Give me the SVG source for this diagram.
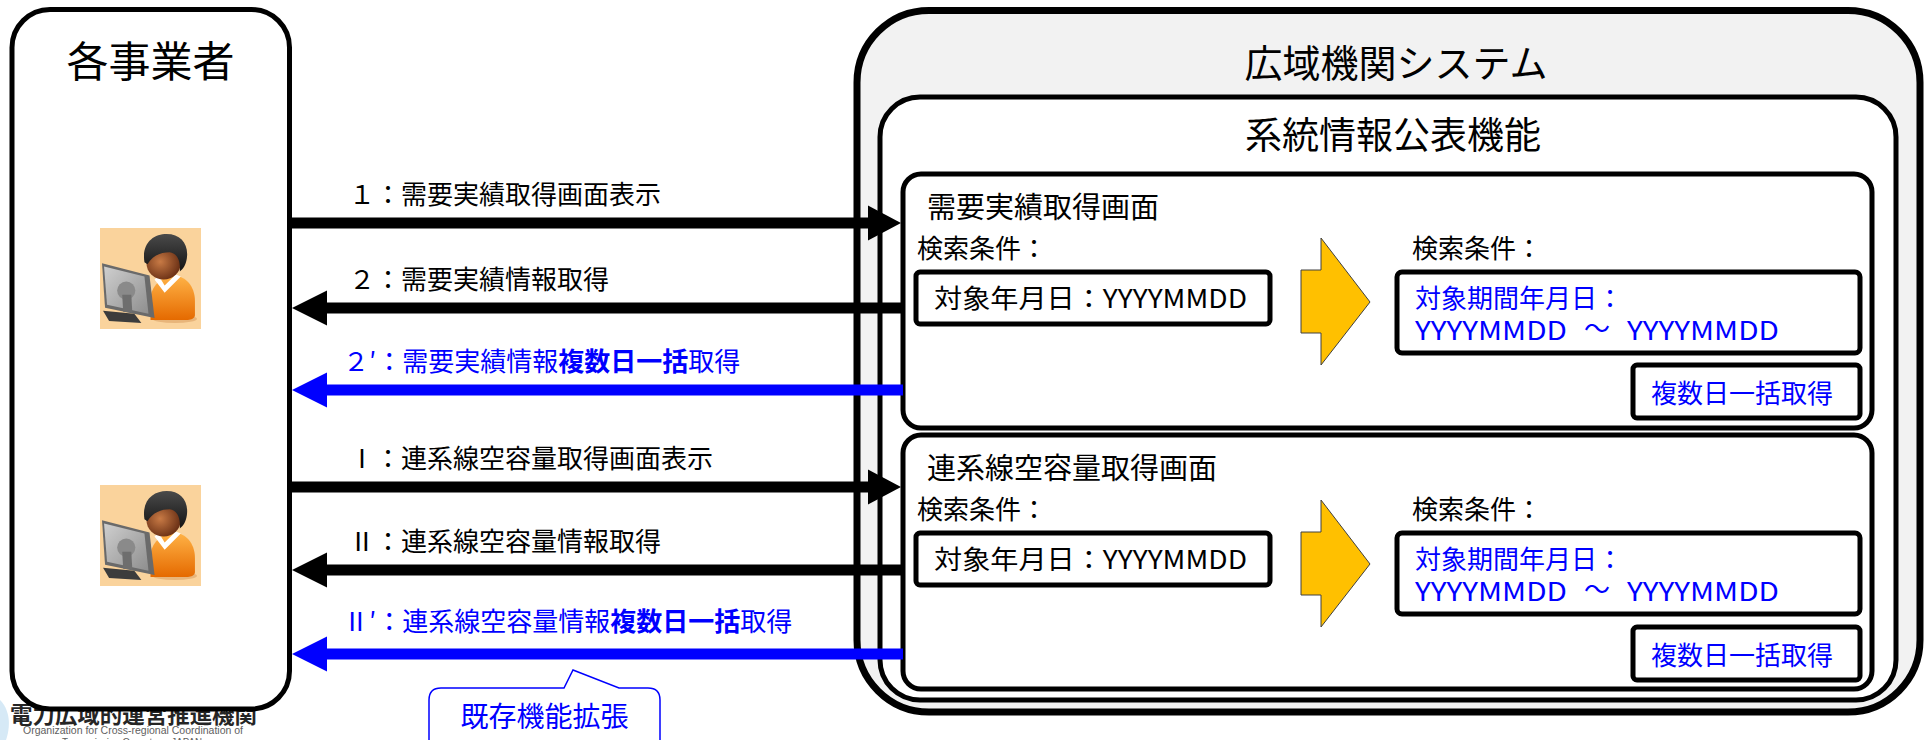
<svg xmlns="http://www.w3.org/2000/svg" width="1931" height="740" viewBox="0 0 1931 740">
  <style>
    .t { font-family: "Noto Sans CJK JP", "Noto Sans", sans-serif; fill: #000; }
    .blue { fill: #0000ff; }
    .b { font-weight: bold; }
    .frame { fill: #fff; stroke: #000; stroke-width: 5; }
    .field { fill: #fff; stroke: #000; stroke-width: 5; }
    .next { fill: #ffc000; stroke: #404040; stroke-width: 1; }
    .shaft { stroke: #000; stroke-width: 11; fill: none; }
    .shaft.bl { stroke: #0000ff; }
    .head { fill: #000; }
    .head.bl { fill: #0000ff; }
  </style>
  <defs>
    <linearGradient id="body-grad" x1="0" y1="0" x2="0" y2="1">
      <stop offset="0" stop-color="#ffb347"/>
      <stop offset="1" stop-color="#e56a00"/>
    </linearGradient>
    <radialGradient id="face-grad" cx="0.4" cy="0.45" r="0.6">
      <stop offset="0" stop-color="#c87a45"/>
      <stop offset="1" stop-color="#6a3015"/>
    </radialGradient>
    <linearGradient id="hair-grad" x1="0" y1="0" x2="0" y2="1">
      <stop offset="0" stop-color="#4a4a4a"/>
      <stop offset="1" stop-color="#141414"/>
    </linearGradient>
    <linearGradient id="screen-grad" x1="0" y1="0" x2="1" y2="1">
      <stop offset="0" stop-color="#cfcfcf"/>
      <stop offset="1" stop-color="#8e8e8e"/>
    </linearGradient>
    <!-- operator at a computer -->
    <symbol id="user-icon" viewBox="0 0 100 100">
      <rect x="0" y="0" width="100" height="100" fill="#fad39c"/>
      <ellipse cx="74" cy="90" rx="22" ry="4" fill="#e8b57a"/>
      <path d="M50,91 L50,68 C52,55 63,48 72,47 C85,47 94,58 94,72 L94,86 C94,90 90,91 87,91 Z" fill="url(#body-grad)"/>
      <path d="M54,51 L64,64 L80,48 L75,46 L64,57 L58,47 Z" fill="#fff"/>
      <ellipse cx="63" cy="35" rx="17" ry="16" fill="url(#face-grad)"/>
      <path d="M44,34 C41,15 53,6 66,6 C80,6 88,16 86,30 C85,37 82,41 79,43 C80,32 76,25 69,24 C61,24 52,27 47,36 Z" fill="url(#hair-grad)"/>
      <path d="M2,35 L49,47 L54,89 L5,79 Z" fill="#6a6a6a"/>
      <path d="M4,38 L44,48 L48,85 L7,76 Z" fill="url(#screen-grad)"/>
      <ellipse cx="26" cy="62" rx="9" ry="9" fill="#8a8a8a"/>
      <path d="M22,66 L31,66 L32,84 L23,83 Z" fill="#6e6e6e"/>
      <path d="M3,82 L34,85 L41,94 L9,92 Z" fill="#3c3c3c"/>
    </symbol>
  </defs>

  <rect width="1931" height="740" fill="#fff"/>

  <!-- organisation mark, bottom left -->
  <g id="org-mark" opacity="0.85">
    <path d="M0,700 C8,708 12,722 6,740 L0,740 Z" fill="#cfe6f5"/>
    <text class="t b" x="10" y="723" font-size="23" fill="#333" textLength="247" lengthAdjust="spacingAndGlyphs">電力広域的運営推進機関</text>
    <text x="23" y="734" font-family="Liberation Sans, sans-serif" font-size="10" fill="#444" textLength="220" lengthAdjust="spacingAndGlyphs">Organization for Cross-regional Coordination of</text>
    <text x="62" y="746" font-family="Liberation Sans, sans-serif" font-size="10" fill="#444" textLength="140" lengthAdjust="spacingAndGlyphs">Transmission Operators, JAPAN</text>
  </g>

  <!-- operators -->
  <g id="operators">
    <rect class="frame" x="12" y="9.5" width="277.5" height="699.5" rx="38"/>
    <text class="t" x="150.5" y="77" font-size="42" text-anchor="middle">各事業者</text>
    <use href="#user-icon" x="100" y="228" width="101" height="101"/>
    <use href="#user-icon" x="100" y="485" width="101" height="101"/>
  </g>

  <!-- OCCTO system -->
  <g id="system">
    <rect x="857" y="10.5" width="1063" height="701.5" rx="72" fill="#f2f2f2" stroke="#000" stroke-width="7"/>
    <text class="t" x="1396" y="77" font-size="38" text-anchor="middle">広域機関システム</text>
  </g>

  <g id="publication">
    <rect class="frame" x="880" y="97" width="1016" height="603" rx="40"/>
    <text class="t" x="1393" y="149" font-size="37" text-anchor="middle">系統情報公表機能</text>
  </g>

  <!-- demand results screen -->
  <g id="demand-screen">
    <rect class="frame" x="903" y="174" width="969" height="254" rx="18"/>
    <text class="t" x="927" y="218" font-size="29">需要実績取得画面</text>
    <text class="t" x="917" y="258" font-size="26">検索条件：</text>
    <rect class="field" x="916" y="272" width="354" height="52" rx="4"/>
    <text class="t" x="934" y="308" font-size="26" textLength="313" lengthAdjust="spacingAndGlyphs">対象年月日：YYYYMMDD</text>
    <path class="next" d="M1301,270 L1321,270 L1321,238 L1370,302 L1321,365 L1321,333 L1301,333 Z"/>
    <text class="t" x="1412" y="258" font-size="26">検索条件：</text>
    <rect class="field" x="1397" y="272" width="463" height="81" rx="5"/>
    <text class="t blue" x="1415" y="308" font-size="26">対象期間年月日：</text>
    <text class="t blue" x="1415" y="340" font-size="26" textLength="152" lengthAdjust="spacingAndGlyphs">YYYYMMDD</text>
    <text class="t blue" x="1584" y="338" font-size="26">～</text>
    <text class="t blue" x="1627" y="340" font-size="26" textLength="152" lengthAdjust="spacingAndGlyphs">YYYYMMDD</text>
    <rect class="field" x="1633" y="365" width="227" height="53" rx="4"/>
    <text class="t blue" x="1651" y="403" font-size="26">複数日一括取得</text>
  </g>

  <!-- interconnection capacity screen -->
  <g id="capacity-screen">
    <rect class="frame" x="903" y="435" width="969" height="254" rx="18"/>
    <text class="t" x="927" y="479" font-size="29">連系線空容量取得画面</text>
    <text class="t" x="917" y="519" font-size="26">検索条件：</text>
    <rect class="field" x="916" y="533" width="354" height="52" rx="4"/>
    <text class="t" x="934" y="569" font-size="26" textLength="313" lengthAdjust="spacingAndGlyphs">対象年月日：YYYYMMDD</text>
    <path class="next" d="M1301,532 L1321,532 L1321,500 L1370,564 L1321,627 L1321,595 L1301,595 Z"/>
    <text class="t" x="1412" y="519" font-size="26">検索条件：</text>
    <rect class="field" x="1397" y="533" width="463" height="81" rx="5"/>
    <text class="t blue" x="1415" y="569" font-size="26">対象期間年月日：</text>
    <text class="t blue" x="1415" y="601" font-size="26" textLength="152" lengthAdjust="spacingAndGlyphs">YYYYMMDD</text>
    <text class="t blue" x="1584" y="599" font-size="26">～</text>
    <text class="t blue" x="1627" y="601" font-size="26" textLength="152" lengthAdjust="spacingAndGlyphs">YYYYMMDD</text>
    <rect class="field" x="1633" y="627" width="227" height="53" rx="4"/>
    <text class="t blue" x="1651" y="665" font-size="26">複数日一括取得</text>
  </g>

  <!-- request / response flows -->
  <g id="connectors">
    <line class="shaft" x1="292" y1="223" x2="870" y2="223"/>
    <polygon class="head" points="868,205.5 901,223 868,240.5"/>
    <text class="t" x="349" y="204" font-size="26">１：需要実績取得画面表示</text>

    <line class="shaft" x1="325" y1="308" x2="903" y2="308"/>
    <polygon class="head" points="327,290.5 292,308 327,325.5"/>
    <text class="t" x="349" y="289" font-size="26">２：需要実績情報取得</text>

    <line class="shaft bl" x1="325" y1="390" x2="903" y2="390"/>
    <polygon class="head bl" points="327,372.5 292,390 327,407.5"/>
    <text class="t blue" x="343" y="371" font-size="26">２′：需要実績情報<tspan class="b">複数日一括</tspan>取得</text>

    <line class="shaft" x1="292" y1="487" x2="870" y2="487"/>
    <polygon class="head" points="868,469.5 901,487 868,504.5"/>
    <text class="t" x="349" y="468" font-size="26">Ⅰ：連系線空容量取得画面表示</text>

    <line class="shaft" x1="325" y1="570" x2="903" y2="570"/>
    <polygon class="head" points="327,552.5 292,570 327,587.5"/>
    <text class="t" x="349" y="551" font-size="26">Ⅱ：連系線空容量情報取得</text>

    <line class="shaft bl" x1="325" y1="654" x2="903" y2="654"/>
    <polygon class="head bl" points="327,636.5 292,654 327,671.5"/>
    <text class="t blue" x="343" y="631" font-size="26">Ⅱ′：連系線空容量情報<tspan class="b">複数日一括</tspan>取得</text>
  </g>

  <!-- note on the bulk download flow -->
  <g id="note">
    <path d="M441,688 L564,688 L573,670 L619,688 L648,688 Q660,688 660,700 L660,760 L429,760 L429,700 Q429,688 441,688 Z" fill="#fff" stroke="#0000ff" stroke-width="1.5"/>
    <text class="t blue" x="544.5" y="727" font-size="28" text-anchor="middle">既存機能拡張</text>
  </g>
</svg>
